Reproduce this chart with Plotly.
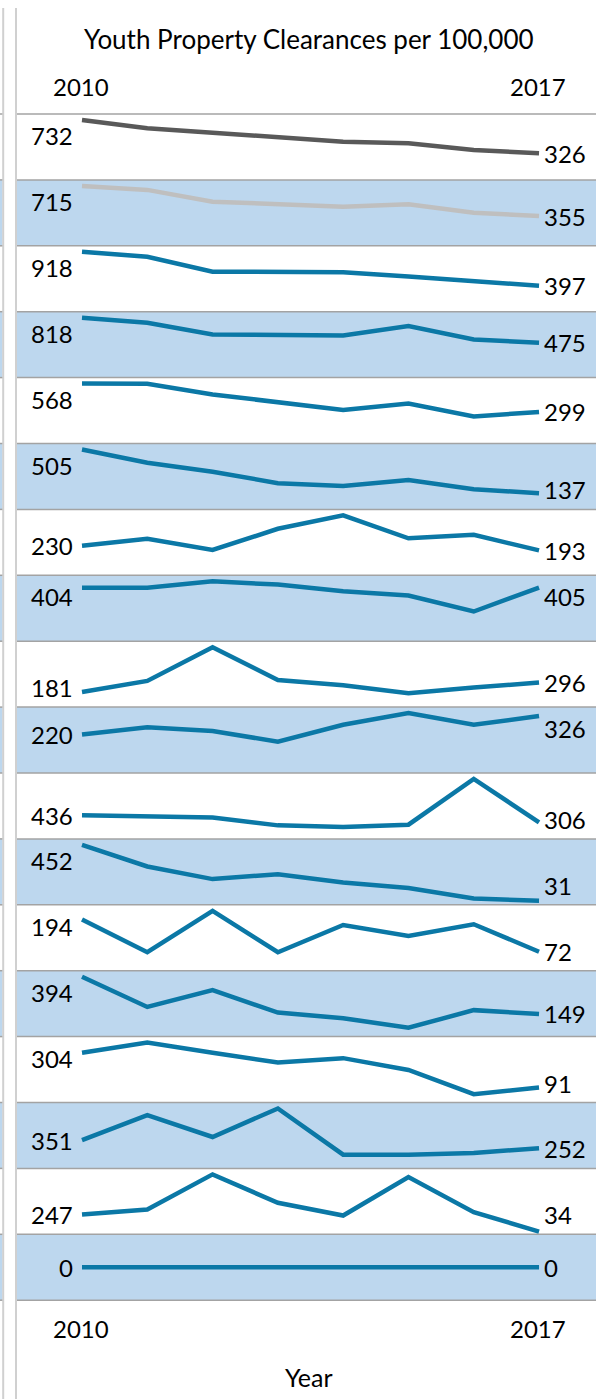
import plotly.graph_objects as go

# ---------------- data ----------------
years = [2010, 2011, 2012, 2013, 2014, 2015, 2016, 2017]
tick_years = [2010, 2017]
title_text = "Youth Property Clearances per 100,000"
x_title = "Year"

r01 = [732, 631, 577, 528, 467, 448, 366, 326]
r02 = [715, 667, 527, 495, 467, 495, 395, 355]
r03 = [918, 842, 614, 614, 605, 538, 462, 397]
r04 = [818, 749, 589, 589, 575, 703, 520, 475]
r05 = [568, 566, 465, 387, 318, 378, 256, 299]
r06 = [505, 393, 318, 221, 198, 248, 170, 137]
r07 = [230, 283, 197, 361, 465, 287, 314, 193]
r08 = [404, 404, 452, 427, 376, 345, 224, 405]
r09 = [181, 314, 719, 325, 262, 165, 234, 296]
r10 = [220, 262, 241, 179, 276, 343, 276, 326]
r11 = [436, 405, 394, 250, 218, 263, 1107, 306]
r12 = [452, 289, 194, 231, 168, 126, 47, 31]
r13 = [194, 70, 227, 70, 173, 132, 176, 72]
r14 = [394, 195, 306, 158, 121, 58, 174, 149]
r15 = [304, 366, 304, 244, 271, 199, 51, 91]
r16 = [351, 662, 391, 746, 171, 171, 191, 252]
r17 = [247, 310, 748, 393, 234, 714, 276, 34]
r18 = [0, 0, 0, 0, 0, 0, 0, 0]
rows = [r01, r02, r03, r04, r05, r06, r07, r08, r09,
        r10, r11, r12, r13, r14, r15, r16, r17, r18]

# ---------------- style ----------------
W, H = 596, 1399
TOP, ROW_H = 114.0, 65.9
PANEL_L = 17.0
X0_PX, STEP_PX = 82.0, 65.29
FONT = "Lato, Carlito, 'Open Sans', sans-serif"
TEAL = "#0B78A6"
BLUE_BG = "#BDD7EE"
SEP = "#A3A3A3"
line_colors = ["#595959", "#BFBFBF"] + [TEAL] * 16

x_lo = years[0] - (X0_PX - PANEL_L) / STEP_PX
x_hi = years[0] + (W - X0_PX) / STEP_PX

def py(px):
    return 1 - px / H

fig = go.Figure()
layout = dict(
    width=W, height=H, margin=dict(l=0, r=0, t=0, b=0),
    paper_bgcolor="white", plot_bgcolor="rgba(0,0,0,0)",
    showlegend=False, font=dict(family=FONT, size=24, color="black"),
    xaxis=dict(domain=[PANEL_L / W, 1], range=[x_lo, x_hi], visible=False,
               fixedrange=True),
)
shapes = []
annotations = []

n = len(rows)
for i, vals in enumerate(rows):
    top = TOP + i * ROW_H
    bot = top + ROW_H
    yname = "y" if i == 0 else f"y{i+1}"
    ykey = "yaxis" if i == 0 else f"yaxis{i+1}"
    vmax = max(vals)
    if vmax > 0:
        lo, hi = 0, vmax * 1.1
    else:
        lo, hi = -1, 1
    layout[ykey] = dict(domain=[py(bot), py(top)], range=[lo, hi],
                        visible=False, anchor="x", fixedrange=True)
    fig.add_trace(go.Scatter(x=years, y=vals, mode="lines", xaxis="x",
                             yaxis=yname, hoverinfo="skip",
                             line=dict(color=line_colors[i], width=4.5)))
    if i % 2 == 1:
        shapes.append(dict(type="rect", xref="paper", yref="paper",
                           x0=PANEL_L / W, x1=1, y0=py(bot), y1=py(top),
                           fillcolor=BLUE_BG, line=dict(width=0), layer="below"))
        shapes.append(dict(type="rect", xref="paper", yref="paper",
                           x0=0, x1=2.5 / W, y0=py(bot), y1=py(top),
                           fillcolor=BLUE_BG, line=dict(width=0), layer="below"))

    def lab_y(v):
        pos = (v - lo) / (hi - lo) * ROW_H
        pos = min(max(pos, 19.5), ROW_H - 21.5)
        return lo + pos / ROW_H * (hi - lo)

    annotations.append(dict(x=years[0], y=lab_y(vals[0]), xref="x", yref=yname,
                            text=str(vals[0]), showarrow=False, xanchor="right",
                            yanchor="middle", xshift=-7,
                            font=dict(family=FONT, size=24, color="black")))
    annotations.append(dict(x=years[-1], y=lab_y(vals[-1]), xref="x", yref=yname,
                            text=str(vals[-1]), showarrow=False, xanchor="left",
                            yanchor="middle", xshift=3,
                            font=dict(family=FONT, size=24, color="black")))

for k in range(n + 1):
    yy = py(TOP + k * ROW_H)
    shapes.append(dict(type="line", xref="paper", yref="paper", x0=PANEL_L / W,
                       x1=1, y0=yy, y1=yy, line=dict(color=SEP, width=1.5),
                       layer="below"))
    shapes.append(dict(type="line", xref="paper", yref="paper", x0=0,
                       x1=3 / W, y0=yy, y1=yy, line=dict(color=SEP, width=1.5),
                       layer="below"))
for xv in (3.2, 16.0):
    shapes.append(dict(type="line", xref="paper", yref="paper", x0=xv / W,
                       x1=xv / W, y0=py(8), y1=0,
                       line=dict(color="#D0D0D0", width=2), layer="below"))

annotations.append(dict(x=309 / W, y=py(39), xref="paper", yref="paper",
                        text=title_text, showarrow=False, xanchor="center",
                        yanchor="middle", font=dict(family=FONT, size=26)))
for ty in tick_years:
    for ypx in (87, 1328):
        annotations.append(dict(x=ty, y=py(ypx), xref="x", yref="paper",
                                text=str(ty), showarrow=False, xanchor="center",
                                yanchor="middle", xshift=-1,
                                font=dict(family=FONT, size=24)))
annotations.append(dict(x=309 / W, y=py(1377), xref="paper", yref="paper",
                        text=x_title, showarrow=False, xanchor="center",
                        yanchor="middle", font=dict(family=FONT, size=25)))

layout["shapes"] = shapes
layout["annotations"] = annotations
fig.update_layout(**layout)
fig.write_html(
    "out.html",
    config={"displayModeBar": False},
    post_script="document.body.style.margin='0';document.body.style.overflow='hidden';",
)
